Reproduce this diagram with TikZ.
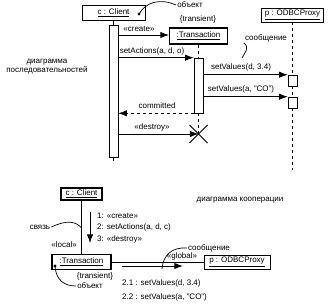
\documentclass[tikz,border=0pt]{standalone}
\usepackage{fontspec}
\setmainfont{Liberation Sans}
\usetikzlibrary{arrows.meta}
\usetikzlibrary{math}

\tikzset{
obj/.style={draw, line width=0.6, fill=white, inner sep=0pt, font=\fontsize{8}{9}\selectfont},
bar/.style={draw, line width=0.6, fill=white, inner sep=0pt, minimum width=9},
msg/.style={line width=0.7, -{Latex[length=3mm,width=2.2mm]}},
lbl/.style={font=\fontsize{8}{9}\selectfont, inner sep=1pt},
life/.style={dashed, line width=0.7},
}

\begin{document}
\begin{tikzpicture}[x=1pt,y=-1pt]
\tikzmath{
\xcl=113.5;
\xtr=198.5;
\xpr=292.5;
}
\useasboundingbox (0,0) rectangle (331,305);

\node[obj, minimum width=63, minimum height=15] (cl) at (\xcl,12.5) {\underline{c : Client}\hspace{8pt}};
\node[obj, line width=1.1, minimum width=58, minimum height=16] (tr) at (\xtr,36) {\underline{:Transaction}};
\node[obj, minimum width=62, minimum height=14] (pr) at (\xpr,15) {\underline{p : ODBCProxy}};

\node[bar, minimum height=132] (clbar) at (\xcl,91) {};
\node[bar, minimum height=55] (trbar) at (\xtr,85.5) {};
\node[bar, minimum height=11] (prbarA) at (\xpr,80.5) {};
\node[bar, minimum height=11] (prbarB) at (\xpr,102.5) {};
\coordinate (kill) at (\xtr,134);
\coordinate (prend) at (\xpr,170);

\draw[line width=0.6] (cl.south) -- (clbar.north);
\draw[line width=0.6] (clbar.south) -- ++(0,4);
\draw[life] (tr.south) -- (trbar.north);
\draw[life] (trbar.south) -- (kill);
\draw[life] (pr.south) -- (prbarA.north);
\draw[life] (prbarA.south) -- (prbarB.north);
\draw[life] (prbarB.south) -- (prend);

\draw[msg] (clbar.east |- 0,35) -- (tr.west |- 0,35);
\draw[msg] (clbar.east |- trbar.north) -- (trbar.north west);
\draw[msg] (trbar.east |- prbarA.north) -- (prbarA.north west);
\draw[msg] (trbar.east |- prbarB.north) -- (prbarB.north west);
\draw[msg, dashed] (trbar.south west) -- (clbar.east |- trbar.south);
\draw[msg] (clbar.east |- kill) -- (kill);
\draw[line width=0.8] (kill) ++(-9,-9) -- ++(18,18) (kill) ++(-9,9) -- ++(18,-18);

\node[lbl] (create) at (139,29) {«create»};
\node[lbl] (setact) at (152,51) {setActions(a, d, o)};
\node[lbl] (setvA) at (241,67) {setValues(d, 3.4)};
\node[lbl] (setvB) at (241,89) {setValues(a, "CO")};
\node[lbl] (commit) at (157,106) {committed};
\node[lbl] (destroy) at (152,127) {«destroy»};
\node[lbl] (trans) at (198,19) {\{transient\}};
\node[lbl, align=center] (seqname) at (47,67) {диаграмма\\последовательностей};

\node[lbl] (obnote) at (190,5) {объект};
\coordinate (obdot) at (139,14);
\fill (obdot) circle (1.6);
\draw[line width=0.7] (obnote.west) .. controls (160,-2) and (146,2) .. (obdot);
\node[lbl] (msgnote) at (266,38) {сообщение};
\draw[line width=0.7] (msgnote.south west) .. controls (250,48) and (245,52) .. (242,58);

\node[obj, line width=1.1, minimum width=41, minimum height=12] (cl2) at (81.5,194) {\underline{c : Client}};
\node[obj, line width=1.1, minimum width=59, minimum height=15] (tr2) at (81.5,262) {\underline{:Transaction}};
\node[obj, minimum width=66, minimum height=14] (pr2) at (237,262) {\underline{p : ODBCProxy}};
\draw[line width=0.6] (cl2) -- (tr2);
\draw[line width=0.6] (tr2) -- (pr2);

\coordinate (dnA) at (90,212);
\coordinate (dnB) at (90,243);
\draw[msg] (dnA) -- (dnB);
\node[lbl, anchor=west] (m1) at (96,216) {1: «create»};
\node[lbl, anchor=west] (m2) at (96,227) {2: setActions(a, d, c)};
\node[lbl, anchor=west] (m3) at (96,239) {3: «destroy»};

\coordinate (rtA) at (122,266);
\coordinate (rtB) at (183,266);
\draw[msg, line width=1] (rtA) -- (rtB);
\node[lbl, anchor=west] (m21) at (121,283) {2.1 : setValues(d, 3.4)};
\node[lbl, anchor=west] (m22) at (121,297) {2.2 : setValues(a, "CO")};

\node[lbl] (link) at (40,227) {связь};
\draw[line width=0.7] (link.east) .. controls (66,220) and (76,221) .. (81.5,228);
\node[lbl, anchor=east] (local) at (78,245) {«local»};
\node[lbl] (trans2) at (95,276) {\{transient\}};
\node[lbl] (obnote2) at (90,286) {объект};
\coordinate (obdot2) at (55,266);
\fill (obdot2) circle (1.6);
\draw[line width=0.7] (obdot2) .. controls (56,280) and (64,286) .. (obnote2.west);
\node[lbl] (global) at (182,256) {«global»};
\node[lbl] (msgnote2) at (209,248) {сообщение};
\draw[line width=0.7] (msgnote2.west) .. controls (172,247) and (163,255) .. (162,269);

\node[lbl] (colname) at (240,200) {диаграмма кооперации};
\end{tikzpicture}
\end{document}
